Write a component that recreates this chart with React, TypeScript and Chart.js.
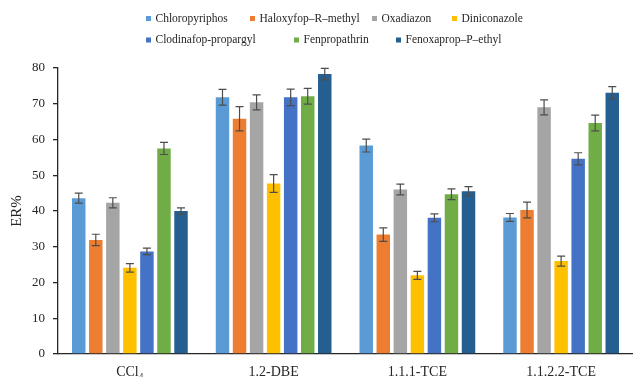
import { useEffect, useRef } from "react";
import { Chart, registerables } from "chart.js";

Chart.register(...registerables);

// Solvent systems on the x axis
const categories = ["CCl₄", "1.2-DBE", "1.1.1-TCE", "1.1.2.2-TCE"];

// Pesticide series names
const seriesNames = [
  "Chloropyriphos",
  "Haloxyfop–R–methyl",
  "Oxadiazon",
  "Diniconazole",
  "Clodinafop-propargyl",
  "Fenpropathrin",
  "Fenoxaprop–P–ethyl",
];

// Extraction recovery (ER%) per solvent, and its standard deviation
const chloropyriphos = [43.6, 71.8, 58.3, 38.2];
const chloropyriphosSd = [1.4, 2.2, 1.8, 1.1];
const haloxyfop = [31.9, 65.8, 33.4, 40.3];
const haloxyfopSd = [1.6, 3.4, 1.9, 2.2];
const oxadiazon = [42.3, 70.4, 46.0, 69.0];
const oxadiazonSd = [1.4, 2.1, 1.5, 2.1];
const diniconazole = [24.1, 47.7, 22.0, 26.0];
const diniconazoleSd = [1.2, 2.5, 1.1, 1.4];
const clodinafop = [28.7, 71.8, 38.1, 54.6];
const clodinafopSd = [0.9, 2.3, 1.1, 1.7];
const fenpropathrin = [57.5, 72.1, 44.7, 64.6];
const fenpropathrinSd = [1.7, 2.2, 1.5, 2.2];
const fenoxaprop = [40.0, 78.3, 45.5, 73.1];
const fenoxapropSd = [0.9, 1.6, 1.3, 1.7];

// Y axis range and step
const yMin = 0;
const yMax = 80;
const yStep = 10;
const yTitle = "ER%";

const seriesValues = [chloropyriphos, haloxyfop, oxadiazon, diniconazole, clodinafop, fenpropathrin, fenoxaprop];
const seriesSd = [chloropyriphosSd, haloxyfopSd, oxadiazonSd, diniconazoleSd, clodinafopSd, fenpropathrinSd, fenoxapropSd];

const seriesColors = ["#5B9BD5", "#ED7D31", "#A5A5A5", "#FFC000", "#4472C4", "#70AD47", "#255E91"];

// Legend layout: [row, square x] for each series
const legendSlots: [number, number][] = [
  [0, 146],
  [0, 250],
  [0, 372],
  [0, 452],
  [1, 146],
  [1, 294],
  [1, 396],
];
const legendRowY = [18.5, 40];

const SERIF = "'Liberation Serif', 'Times New Roman', serif";
const TEXT = "#262626";

const errorBarsPlugin = {
  id: "errorBars",
  afterDatasetsDraw(chart: any) {
    const { ctx } = chart;
    const yScale = chart.scales.y;
    ctx.save();
    ctx.strokeStyle = "#4d4d4d";
    ctx.lineWidth = 1.2;
    chart.data.datasets.forEach((ds: any, d: number) => {
      const meta = chart.getDatasetMeta(d);
      meta.data.forEach((bar: any, i: number) => {
        const v = ds.data[i];
        const e = seriesSd[d][i];
        const top = yScale.getPixelForValue(v + e);
        const bot = yScale.getPixelForValue(v - e);
        const x = bar.x;
        ctx.beginPath();
        ctx.moveTo(x, top);
        ctx.lineTo(x, bot);
        ctx.moveTo(x - 4, top);
        ctx.lineTo(x + 4, top);
        ctx.moveTo(x - 4, bot);
        ctx.lineTo(x + 4, bot);
        ctx.stroke();
      });
    });
    ctx.restore();
  },
};

const legendPlugin = {
  id: "placedLegend",
  afterDraw(chart: any) {
    const { ctx, chartArea } = chart;
    ctx.save();
    ctx.font = `11.5px ${SERIF}`;
    ctx.textBaseline = "middle";
    ctx.textAlign = "left";
    chart.data.datasets.forEach((ds: any, d: number) => {
      const [row, x] = legendSlots[d];
      const y = legendRowY[row];
      ctx.fillStyle = seriesColors[d];
      ctx.fillRect(x, y - 2.5, 5, 5);
      ctx.fillStyle = TEXT;
      ctx.fillText(ds.label, x + 9.5, y);
    });
    // y axis title, centred on the plot area
    ctx.translate(17, (chartArea.top + chartArea.bottom) / 2);
    ctx.rotate(-Math.PI / 2);
    ctx.textAlign = "center";
    ctx.font = `15px ${SERIF}`;
    ctx.fillText(yTitle, 0, 0);
    ctx.restore();
  },
};

export default function App() {
  const canvasRef = useRef<HTMLCanvasElement | null>(null);

  useEffect(() => {
    const canvas = canvasRef.current;
    if (!canvas) return;
    const chart = new Chart(canvas, {
      type: "bar",
      data: {
        labels: categories,
        datasets: seriesNames.map((name, d) => ({
          label: name,
          data: seriesValues[d],
          backgroundColor: seriesColors[d],
          borderWidth: 0,
          barPercentage: 0.79,
          categoryPercentage: 0.83,
        })),
      },
      options: {
        responsive: false,
        animation: false,
        layout: { padding: { top: 68, left: 0, right: 0, bottom: 0 } },
        plugins: {
          legend: { display: false },
          tooltip: { enabled: false },
        },
        scales: {
          x: {
            grid: { display: false, drawTicks: false },
            border: { display: true, color: TEXT, width: 1.3 },
            ticks: {
              color: TEXT,
              font: { family: SERIF, size: 14 },
              padding: 10,
            },
            afterFit(scale: any) {
              scale.height = 23;
            },
          },
          y: {
            min: yMin,
            max: yMax,
            ticks: {
              stepSize: yStep,
              color: TEXT,
              font: { family: SERIF, size: 13 },
              padding: 8,
            },
            grid: {
              display: true,
              drawOnChartArea: false,
              drawTicks: true,
              tickLength: 5,
              color: TEXT,
              lineWidth: 1.3,
            },
            border: { display: true, color: TEXT, width: 1.3 },
            afterFit(scale: any) {
              scale.width = 58;
            },
          },
        },
      },
      plugins: [errorBarsPlugin, legendPlugin],
    });
    return () => chart.destroy();
  }, []);

  return (
    <canvas
      ref={canvasRef}
      width={633}
      height={377}
      style={{ position: "absolute", left: 0, top: 0, display: "block", background: "#fff" }}
    />
  );
}
